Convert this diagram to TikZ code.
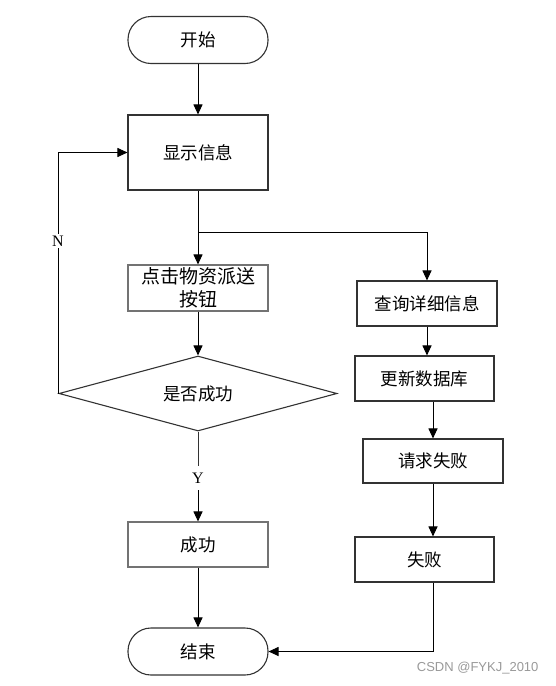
\documentclass[tikz,border=0pt]{standalone}
\usepackage{fontspec}
\setmainfont{Liberation Serif}
\newfontfamily\cjk{Noto Sans CJK SC}
\newfontfamily\wmfont{Liberation Sans}
\usetikzlibrary{shapes.geometric,arrows.meta}
\begin{document}
\begin{tikzpicture}[x=1pt,y=-1pt,
  base/.style={draw=black!80,line width=1.1pt,font=\cjk\fontsize{17.5}{23}\selectfont,inner sep=0pt,align=center},
  box/.style={base,rectangle,minimum width=140pt,minimum height=45pt},
  lbox/.style={box,draw=black!55},
  term/.style={base,rectangle,rounded corners=23pt,minimum width=140pt,minimum height=47pt},
  dia/.style={base,diamond,aspect=3.7,minimum width=278pt,minimum height=75pt},
  arr/.style={draw=black,line width=1pt,-{Triangle[length=10pt,width=9pt]}},
  ln/.style={draw=black!80,line width=1pt},
  lab/.style={font=\fontsize{16}{18}\selectfont,fill=white,inner sep=2pt}]
\useasboundingbox (0,0) rectangle (556,686);
\node[term] (start) at (198,40) {开始};
\node[box,minimum height=75pt] (show) at (198,152.5) {显示信息};
\node[lbox,minimum height=46pt,font=\cjk\fontsize{19}{23}\selectfont] (click) at (198,288) {点击物资派送\\按钮};
\node[dia] (dec) at (198,393.5) {是否成功};
\node[lbox] (succ) at (198,544.5) {成功};
\node[term] (end) at (198,651.5) {结束};
\node[box] (query) at (427,303.5) {查询详细信息};
\node[box,minimum width=139pt] (update) at (424.5,378.5) {更新数据库};
\node[box,minimum height=44pt] (req) at (433,461) {请求失败};
\node[box,minimum width=139pt] (fail) at (424.5,559.5) {失败};
\coordinate (br) at (198,232);
\draw[arr] (start.south) -- (show.north);
\draw[arr] (show.south) -- (click.north);
\draw[arr] (br) -| (query.north);
\draw[arr] (click.south) -- (dec.north);
\draw[arr] (dec.west) -- (dec.west |- show.west) -- (show.west);
\node[lab] (N) at (58,241) {N};
\draw[ln] (dec.south) -- (198,466);
\node[lab] (Y) at (198,478) {Y};
\draw[arr] (198,490) -- (succ.north);
\draw[arr] (succ.south) -- (end.north);
\draw[arr] (query.south) -- (query.south |- update.north);
\draw[arr] (req.north |- update.south) -- (req.north);
\draw[arr] (req.south) -- (req.south |- fail.north);
\draw[arr] (fail.south -| req.south) |- (end.east);
\node[font=\wmfont\fontsize{13}{15}\selectfont,text=black!40,anchor=east] (wm) at (542,668) {CSDN @FYKJ\_2010};
\end{tikzpicture}
\end{document}
